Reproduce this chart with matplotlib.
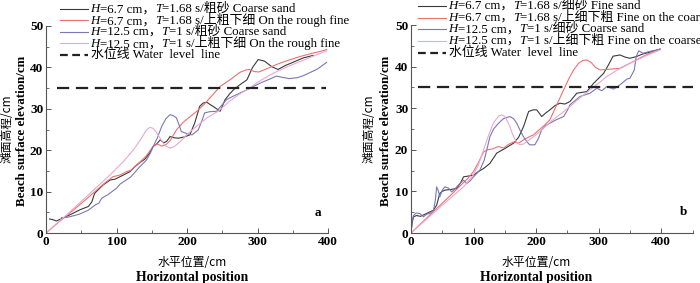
import matplotlib
matplotlib.use("Agg")
import matplotlib.pyplot as plt
from matplotlib.lines import Line2D
from matplotlib.offsetbox import TextArea, HPacker, DrawingArea, AnchoredOffsetbox
from matplotlib.ticker import MultipleLocator

FAM = ['Liberation Serif', 'Noto Sans CJK SC']
plt.rcParams['font.family'] = FAM

# ---------------- data: panel a ----------------
a_black_x = [5, 10, 15, 20, 25, 34, 48, 60, 65, 69, 75, 81, 91, 98, 105, 112, 119, 126, 133, 140, 147, 152, 157,
             162, 167, 171, 176, 182, 188, 196, 204, 211, 218, 223, 228, 233, 237, 242, 247, 254, 260, 266, 275,
             285, 293, 301, 310, 320, 329, 340, 350, 365, 379]
a_black_y = [3.4, 3.2, 2.9, 3.3, 3.7, 4.4, 5.6, 6.4, 7.5, 9.6, 10.6, 11.6, 12.8, 13.0, 13.6, 14.2, 14.8, 16.0, 17.0,
             17.8, 19.3, 20.9, 21.5, 22.5, 21.8, 22.1, 23.3, 23.0, 22.9, 23.2, 23.7, 26.6, 30.6, 31.4, 31.6, 31.0,
             30.6, 30.0, 29.4, 32.2, 33.5, 34.6, 35.8, 37.0, 40.0, 41.9, 41.5, 40.2, 39.5, 40.5, 41.2, 42.3, 42.9]

a_red_x = [0, 20, 40, 60, 72, 85, 95, 105, 114, 121, 128, 135, 142, 148, 152, 158, 164, 170, 176, 185, 195, 205,
           214, 225, 236, 247, 261, 275, 284, 289, 295, 302, 315, 330, 345, 360, 375, 390, 398]
a_red_y = [0, 2.9, 5.7, 8.6, 10.4, 12.3, 13.6, 14.0, 14.8, 15.2, 16.4, 17.4, 18.6, 20.0, 20.9, 21.5, 21.0, 21.3,
           22.3, 24.9, 26.8, 28.2, 29.4, 31.2, 33.3, 35.4, 37.0, 38.8, 39.4, 39.5, 39.0, 38.9, 39.8, 40.9, 41.8,
           42.6, 43.3, 43.9, 44.3]

a_blue_x = [22, 30, 40, 48, 60, 70, 75, 79, 88, 100, 105, 112, 120, 133, 142, 148, 152, 158, 164, 170, 176, 181,
            185, 189, 192, 200, 207, 216, 222, 225, 232, 242, 249, 256, 265, 275, 285, 294, 305, 315, 327, 335,
            345, 356, 365, 375, 385, 398]
a_blue_y = [3.7, 3.8, 4.2, 4.6, 5.5, 6.8, 7.2, 8.4, 9.3, 10.8, 11.8, 12.6, 13.5, 16.0, 17.5, 19.3, 20.9, 23.0,
            25.7, 27.6, 28.6, 28.3, 27.8, 26.0, 24.5, 24.0, 23.7, 24.9, 27.5, 29.0, 29.3, 29.4, 30.8, 32.2, 33.0,
            33.8, 34.6, 35.4, 36.3, 37.0, 37.9, 37.6, 37.3, 37.5, 38.0, 38.8, 39.6, 41.2]

a_pink_x = [0, 30, 60, 90, 110, 125, 135, 142, 147, 152, 158, 165, 170, 176, 182, 190, 200, 215, 230, 245, 260,
            275, 289, 300, 320, 340, 360, 380, 398]
a_pink_y = [0, 4.5, 9.2, 13.9, 17.3, 20.3, 22.8, 24.8, 25.5, 25.3, 24.0, 22.0, 21.0, 20.5, 20.9, 22.0, 23.8, 26.0,
            28.0, 29.5, 31.8, 33.6, 35.0, 36.4, 38.4, 40.0, 41.4, 42.8, 44.0]

a_water_x = [16, 397]
a_water_y = [35, 35]

# ---------------- data: panel b ----------------
b_black_x = [0, 2, 4, 9, 15, 25, 36, 41, 46, 50, 54, 65, 73, 79, 84, 92, 100, 108, 116, 126, 137, 150, 164, 172,
             180, 188, 195, 201, 209, 215, 222, 230, 238, 246, 254, 265, 273, 281, 292, 300, 308, 316, 323, 334,
             342, 350, 360, 370, 385, 398]
b_black_y = [0.3, 2.5, 3.9, 4.2, 4.0, 4.7, 5.5, 6.7, 9.5, 10.0, 10.3, 10.5, 10.7, 12.0, 13.5, 13.7, 13.9, 14.8,
             15.5, 16.7, 19.2, 20.3, 21.6, 23.0, 25.6, 29.2, 29.6, 29.6, 28.0, 28.8, 29.6, 30.6, 31.2, 31.0, 31.6,
             33.6, 33.8, 34.0, 36.0, 37.2, 38.4, 40.5, 42.5, 42.8, 42.3, 42.0, 42.4, 43.0, 43.6, 44.2]

b_red_x = [0, 30, 60, 90, 100, 108, 116, 122, 130, 140, 148, 156, 164, 172, 180, 190, 196, 205, 214, 222, 232,
           244, 252, 260, 268, 275, 281, 288, 295, 302, 310, 320, 334, 350, 365, 380, 398]
b_red_y = [0, 4.3, 8.6, 13.0, 14.8, 17.0, 19.5, 20.0, 20.2, 20.8, 20.4, 21.3, 21.9, 21.6, 22.4, 23.2, 23.6, 24.8,
           26.0, 27.2, 30.5, 34.4, 37.0, 39.2, 40.8, 41.5, 41.6, 41.0, 39.8, 39.2, 39.3, 39.4, 39.6, 40.8, 42.0,
           43.1, 44.2]

b_blue_x = [0, 2, 4, 8, 14, 20, 25, 30, 36, 39, 41, 44, 46, 50, 54, 60, 65, 70, 73, 79, 84, 89, 95, 100, 105,
            110, 117, 122, 126, 132, 140, 148, 158, 164, 169, 175, 180, 186, 190, 198, 203, 209, 215, 222, 232,
            244, 250, 254, 262, 270, 286, 297, 305, 313, 324, 334, 345, 350, 357, 360, 364, 371, 380, 390, 398]
b_blue_y = [0, 3.0, 4.2, 4.8, 4.7, 3.9, 4.5, 4.7, 5.5, 8.0, 11.1, 10.0, 8.7, 10.3, 11.1, 10.8, 9.9, 10.5, 11.1,
            12.0, 12.7, 11.9, 12.6, 13.5, 14.3, 15.1, 17.5, 20.5, 23.1, 25.0, 26.4, 27.5, 28.0, 27.5, 26.4, 24.5,
            23.1, 21.8, 21.2, 21.2, 22.5, 24.8, 25.8, 26.4, 27.2, 28.0, 29.5, 30.8, 31.8, 32.8, 33.6, 34.8, 34.2,
            35.2, 34.6, 35.6, 37.0, 37.2, 39.2, 42.4, 43.8, 43.2, 43.6, 43.9, 44.2]

b_pink_x = [0, 30, 60, 84, 100, 108, 116, 124, 132, 140, 145, 150, 157, 163, 169, 174, 180, 190, 200, 212, 225,
            240, 254, 270, 286, 300, 313, 330, 350, 370, 385, 398]
b_pink_y = [0, 4.0, 8.0, 11.1, 14.0, 16.5, 20.0, 23.5, 26.5, 28.1, 28.4, 28.0, 26.0, 23.5, 21.8, 21.2, 21.4,
            22.5, 23.6, 25.2, 27.0, 28.7, 30.4, 32.5, 34.4, 36.0, 37.6, 39.2, 40.8, 42.2, 43.2, 44.0]

b_water_x = [11, 450]
b_water_y = [35, 35]

labels_a = [("6.7", "1.68", "粗砂 Coarse sand"),
            ("6.7", "1.68", "上粗下细 On the rough fine"),
            ("12.5", "1", "粗砂 Coarse sand"),
            ("12.5", "1", "上粗下细 On the rough fine")]
labels_b = [("6.7", "1.68", "细砂 Fine sand"),
            ("6.7", "1.68", "上细下粗 Fine on the coarse"),
            ("12.5", "1", "细砂 Coarse sand"),
            ("12.5", "1", "上细下粗 Fine on the coarse")]
water_label = "水位线 Water  level  line"

COLORS = ['#3a3a3a', '#f07070', '#7878b8', '#eaa8d0']
LW = 0.8
WDASH = (5.5, 3)

fig = plt.figure(figsize=(7.0, 2.83), dpi=100)
ax_a = fig.add_axes([46/700, 1-233/283, 282/700, 207/283])
ax_b = fig.add_axes([411/700, 1-233/283, 281.5/700, 208/283])


def style_axes(ax, xmax):
    ax.set_xlim(0, xmax)
    ax.set_ylim(0, 50)
    for s in ['top', 'right']:
        ax.spines[s].set_visible(False)
    for s in ['left', 'bottom']:
        ax.spines[s].set_color('#555555')
        ax.spines[s].set_linewidth(0.8)
    ax.xaxis.set_major_locator(MultipleLocator(100))
    ax.xaxis.set_minor_locator(MultipleLocator(50))
    ax.yaxis.set_major_locator(MultipleLocator(10))
    ax.yaxis.set_minor_locator(MultipleLocator(5))
    ax.tick_params(which='major', direction='in', length=3.5, width=0.7, color='#555555', pad=2)
    ax.tick_params(which='minor', direction='in', length=2, width=0.6, color='#555555')
    for lab in ax.get_xticklabels() + ax.get_yticklabels():
        lab.set_fontfamily(FAM)
        lab.set_fontsize(9.5)
        lab.set_fontweight('bold')


ax_a.plot(a_black_x, a_black_y, color=COLORS[0], lw=LW)
ax_a.plot(a_red_x, a_red_y, color=COLORS[1], lw=LW)
ax_a.plot(a_blue_x, a_blue_y, color=COLORS[2], lw=LW)
ax_a.plot(a_pink_x, a_pink_y, color=COLORS[3], lw=LW)
ax_a.plot(a_water_x, a_water_y, color='#222222', lw=1.6, dashes=WDASH)
style_axes(ax_a, 400)

ax_b.plot(b_black_x, b_black_y, color=COLORS[0], lw=LW)
ax_b.plot(b_red_x, b_red_y, color=COLORS[1], lw=LW)
ax_b.plot(b_blue_x, b_blue_y, color=COLORS[2], lw=LW)
ax_b.plot(b_pink_x, b_pink_y, color=COLORS[3], lw=LW)
ax_b.plot(b_water_x, b_water_y, color='#222222', lw=1.6, dashes=WDASH)
style_axes(ax_b, 450)

LFS = 9.3


def legend_row(x0, yc, handle, parts):
    txt = HPacker(children=parts, align='baseline', pad=0, sep=0)
    row = HPacker(children=[handle, txt], align='center', pad=0, sep=2)
    anc = AnchoredOffsetbox(loc='center left', child=row, pad=0, borderpad=0, frameon=False,
                            bbox_to_anchor=(x0/700, 1 - yc/283), bbox_transform=fig.transFigure)
    fig.add_artist(anc)


def make_legend(labels, x0, y_first, step):
    for i, (h, t, rest) in enumerate(labels):
        da = DrawingArea(20, 6, 0, 0)
        da.add_artist(Line2D([0, 20], [3, 3], color=COLORS[i], lw=LW))
        parts = [TextArea("H", textprops=dict(family=FAM, style='italic', size=LFS)),
                 TextArea("=" + h + " cm，", textprops=dict(family=FAM, size=LFS)),
                 TextArea("T", textprops=dict(family=FAM, style='italic', size=LFS)),
                 TextArea("=" + t + " s/" + rest, textprops=dict(family=FAM, size=LFS))]
        legend_row(x0, y_first + i*step, da, parts)
    da = DrawingArea(20, 6, 0, 0)
    da.add_artist(Line2D([0, 20], [3, 3], color='#222222', lw=1.6, dashes=(3.5, 2)))
    legend_row(x0, y_first + 4*step + 0.5, da,
               [TextArea(water_label, textprops=dict(family=FAM, size=LFS))])


make_legend(labels_a, 60, 9, 11.4)
make_legend(labels_b, 418, 6, 11.6)

# axis labels
for xc_cn, xc_en, xc in [(7, 22, 192), (369, 386, 536)]:
    fig.text(xc_cn/700, 1-129/283, "滩面高程/cm", rotation=90, ha='center', va='center',
             family=['Noto Sans CJK SC'], size=8.5)
    fig.text(xc_en/700, 1-131/283, "Beach surface elevation/cm", rotation=90, ha='center', va='center',
             family=FAM, size=9.3, weight='bold')
    fig.text(xc/700, 1-262/283, "水平位置/cm", ha='center', va='center',
             family=['Noto Sans CJK SC'], size=8.6)
    fig.text(xc/700, 1-277/283, "Horizontal position", ha='center', va='center',
             family=FAM, size=9.8, weight='bold')

fig.text(318/700, 1-213/283, "a", ha='center', va='center', family=FAM, size=9.5, weight='bold')
fig.text(683/700, 1-212/283, "b", ha='center', va='center', family=FAM, size=9.5, weight='bold')

fig.savefig("out.png", dpi=100)
